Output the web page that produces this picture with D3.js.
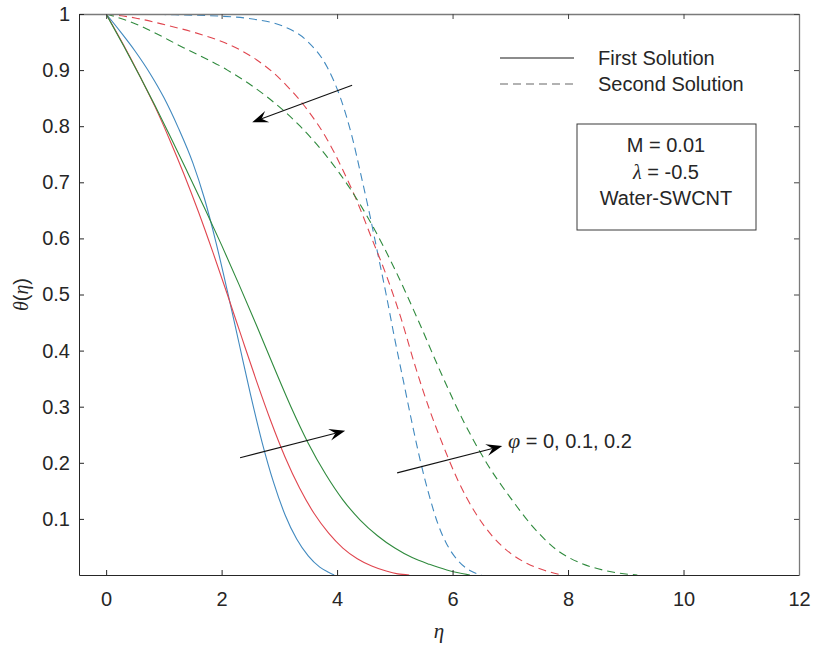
<!DOCTYPE html>
<html lang="en">
<head>
<meta charset="UTF-8" />
<title>theta profiles</title>
<script src="https://cdn.jsdelivr.net/npm/d3@7/dist/d3.min.js"></script>
<style>
  body { margin: 0; background: #fff; }
  text { font-family: "Liberation Sans", Arial, sans-serif; fill: #262626; }
  .greek { font-family: "Liberation Serif", "DejaVu Serif", serif; font-style: italic; }
</style>
</head>
<body>
<script>
// curves: [eta, theta]
const firstBlue  = [[0,1],[0.25,0.968],[0.5,0.934],[0.76,0.894],[1.0,0.851],[1.25,0.797],[1.5,0.735],[1.7,0.672],[1.9,0.594],[2.1,0.506],[2.3,0.414],[2.5,0.322],[2.7,0.237],[2.9,0.165],[3.1,0.107],[3.3,0.064],[3.5,0.034],[3.7,0.014],[3.85,0.005],[3.95,0]];
const firstRed   = [[0,1],[0.3,0.945],[0.59,0.888],[0.85,0.834],[1.1,0.776],[1.35,0.714],[1.6,0.647],[1.85,0.575],[2.1,0.5],[2.35,0.423],[2.6,0.347],[2.85,0.275],[3.1,0.21],[3.35,0.155],[3.6,0.11],[3.85,0.075],[4.1,0.048],[4.35,0.029],[4.6,0.016],[4.85,0.007],[5.05,0.002],[5.25,0]];
const firstGreen = [[0,1],[0.3,0.944],[0.6,0.886],[0.85,0.836],[1.1,0.784],[1.4,0.72],[1.7,0.655],[2.0,0.588],[2.3,0.518],[2.6,0.446],[2.9,0.372],[3.2,0.3],[3.5,0.235],[3.8,0.18],[4.1,0.134],[4.4,0.098],[4.7,0.07],[5.0,0.048],[5.3,0.031],[5.6,0.019],[5.9,0.009],[6.1,0.004],[6.3,0]];

const secondBlue  = [[0,1],[1,0.999],[2,0.996],[2.6,0.99],[3.07,0.978],[3.48,0.952],[3.83,0.905],[4.06,0.85],[4.25,0.785],[4.42,0.71],[4.56,0.645],[4.7,0.575],[4.85,0.5],[5.0,0.42],[5.15,0.345],[5.3,0.27],[5.45,0.2],[5.6,0.14],[5.75,0.09],[5.9,0.055],[6.1,0.025],[6.3,0.008],[6.5,0]];
const secondRed   = [[0,1],[0.5,0.993],[1.05,0.98],[1.5,0.968],[1.92,0.954],[2.3,0.937],[2.61,0.918],[2.9,0.895],[3.13,0.872],[3.48,0.83],[3.83,0.776],[4.1,0.722],[4.35,0.665],[4.6,0.6],[4.85,0.535],[5.1,0.46],[5.36,0.37],[5.6,0.295],[5.84,0.23],[6.1,0.167],[6.4,0.11],[6.7,0.068],[7.0,0.039],[7.3,0.02],[7.6,0.008],[7.9,0]];
const secondGreen = [[0,1],[0.47,0.984],[1.34,0.94],[2.1,0.9],[2.79,0.852],[3.36,0.8],[3.83,0.745],[4.23,0.688],[4.6,0.625],[5.0,0.545],[5.4,0.455],[5.8,0.36],[6.2,0.272],[6.6,0.198],[7.0,0.138],[7.4,0.085],[7.8,0.045],[8.2,0.022],[8.6,0.009],[8.9,0.003],[9.2,0]];

const xTicks = [0, 2, 4, 6, 8, 10, 12];
const yTicks = [0.1, 0.2, 0.3, 0.4, 0.5, 0.6, 0.7, 0.8, 0.9, 1];
const legendLabels = ['First Solution', 'Second Solution'];
const boxLines = ['M = 0.01', 'λ = -0.5', 'Water-SWCNT'];
const phiLabel = ' = 0, 0.1, 0.2';

// arrows in data units: [from, to]
const arrows = [
  [[4.26, 0.873], [2.53, 0.807]],
  [[2.32, 0.209], [4.14, 0.257]],
  [[5.04, 0.182], [6.86, 0.23]]
];

const series = [
  { data: firstBlue,   color: '#4189bf', dash: null },
  { data: firstRed,    color: '#e0464f', dash: null },
  { data: firstGreen,  color: '#2f8a3d', dash: null },
  { data: secondBlue,  color: '#4189bf', dash: '8,5' },
  { data: secondRed,   color: '#e0464f', dash: '8,5' },
  { data: secondGreen, color: '#2f8a3d', dash: '8,5' }
];

const width = 815, height = 648;
const plot = { left: 79, right: 799, top: 14, bottom: 575 };
const fs = 20;

const x = d3.scaleLinear().domain([-0.47, 12]).range([plot.left, plot.right]);
const y = d3.scaleLinear().domain([0, 1]).range([plot.bottom, plot.top]);

const svg = d3.select('body').append('svg')
  .attr('width', width).attr('height', height);

svg.append('rect').attr('width', width).attr('height', height).attr('fill', '#fff');

svg.append('clipPath').attr('id', 'clip')
  .append('rect')
  .attr('x', plot.left).attr('y', plot.top)
  .attr('width', plot.right - plot.left).attr('height', plot.bottom - plot.top);

// curves
const line = d3.line().x(d => x(d[0])).y(d => y(d[1])).curve(d3.curveMonotoneX);
svg.append('g').attr('clip-path', 'url(#clip)')
  .selectAll('path')
  .data(series)
  .join('path')
  .attr('d', d => line(d.data))
  .attr('fill', 'none')
  .attr('stroke', d => d.color)
  .attr('stroke-width', 1.1)
  .attr('stroke-dasharray', d => d.dash);

// axes (MATLAB style, ticks inward)
const tk = 5;
const bottomAxis = svg.append('g').attr('transform', `translate(0,${plot.bottom})`)
  .call(d3.axisBottom(x).tickValues(xTicks).tickSizeInner(-tk).tickSizeOuter(0).tickPadding(17));
const topAxis = svg.append('g').attr('transform', `translate(0,${plot.top})`)
  .call(d3.axisTop(x).tickValues(xTicks).tickSizeInner(-tk).tickSizeOuter(0).tickFormat(''));
const leftAxis = svg.append('g').attr('transform', `translate(${plot.left},0)`)
  .call(d3.axisLeft(y).tickValues(yTicks).tickSizeInner(-tk).tickSizeOuter(0).tickPadding(9)
    .tickFormat(d => d === 1 ? '1' : d3.format('.1f')(d)));
const rightAxis = svg.append('g').attr('transform', `translate(${plot.right},0)`)
  .call(d3.axisRight(y).tickValues(yTicks).tickSizeInner(-tk).tickSizeOuter(0).tickFormat(''));

[bottomAxis, leftAxis].forEach(g => {
  g.select('.domain').attr('stroke', '#262626');
  g.selectAll('.tick line').attr('stroke', '#262626');
  g.selectAll('.tick text').attr('font-size', fs).attr('fill', '#262626')
    .attr('font-family', '"Liberation Sans", Arial, sans-serif');
});
[topAxis, rightAxis].forEach(g => {
  g.select('.domain').attr('stroke', '#7a7a7a').attr('stroke-width', 1.3);
  g.selectAll('.tick line').attr('stroke', '#444');
});

// axis labels
svg.append('text')
  .attr('class', 'greek')
  .attr('x', (plot.left + plot.right) / 2).attr('y', 638)
  .attr('text-anchor', 'middle').attr('font-size', 21)
  .text('η');

svg.append('text')
  .attr('transform', `translate(28,${(plot.top + plot.bottom) / 2}) rotate(-90)`)
  .attr('text-anchor', 'middle').attr('font-size', 20)
  .call(t => {
    t.append('tspan').attr('class', 'greek').text('θ');
    t.append('tspan').text('(');
    t.append('tspan').attr('class', 'greek').text('η');
    t.append('tspan').text(')');
  });

// legend
const legend = svg.append('g');
legendLabels.forEach((lab, i) => {
  const ly = 58 + i * 26;
  legend.append('line')
    .attr('x1', 500).attr('x2', 574).attr('y1', ly).attr('y2', ly)
    .attr('stroke', i === 0 ? '#1a1a1a' : '#666')
    .attr('stroke-width', 1.1)
    .attr('stroke-dasharray', i === 0 ? null : '8,5');
  legend.append('text')
    .attr('x', 598).attr('y', ly + 7)
    .attr('font-size', fs)
    .text(lab);
});

// parameter box
svg.append('rect')
  .attr('x', 577).attr('y', 124).attr('width', 179).attr('height', 106)
  .attr('fill', '#fff').attr('stroke', '#3a3a3a').attr('stroke-width', 1);
boxLines.forEach((s, i) => {
  const t = svg.append('text')
    .attr('x', 666).attr('y', 152 + i * 26.5)
    .attr('text-anchor', 'middle').attr('font-size', fs);
  if (s.startsWith('λ')) {
    t.append('tspan').attr('class', 'greek').text('λ');
    t.append('tspan').text(s.slice(1));
  } else {
    t.text(s);
  }
});

// phi annotation
const phi = svg.append('text').attr('x', 508).attr('y', 448).attr('font-size', fs);
phi.append('tspan').attr('class', 'greek').attr('font-size', 22).text('φ');
phi.append('tspan').text(phiLabel);

// arrows
function drawArrow(from, to) {
  const x1 = x(from[0]), y1 = y(from[1]), x2 = x(to[0]), y2 = y(to[1]);
  const ang = Math.atan2(y2 - y1, x2 - x1);
  const len = 16, half = 6, notch = 10;
  const ux = Math.cos(ang), uy = Math.sin(ang);
  const px = -uy, py = ux;
  const bx = x2 - ux * len, by = y2 - uy * len;
  const nx = x2 - ux * notch, ny = y2 - uy * notch;
  svg.append('line')
    .attr('x1', x1).attr('y1', y1).attr('x2', nx).attr('y2', ny)
    .attr('stroke', '#111').attr('stroke-width', 1.1);
  svg.append('path')
    .attr('d', `M${x2},${y2} L${bx + px * half},${by + py * half} L${nx},${ny} L${bx - px * half},${by - py * half} Z`)
    .attr('fill', '#000');
}
arrows.forEach(a => drawArrow(a[0], a[1]));
</script>
</body>
</html>
